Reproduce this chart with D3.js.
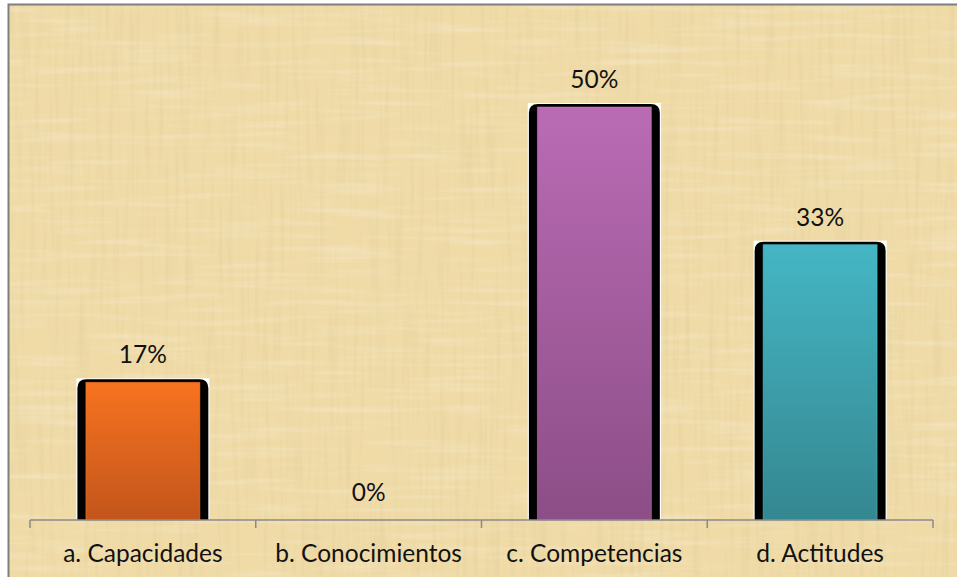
<!DOCTYPE html>
<html>
<head>
<meta charset="utf-8">
<script src="https://cdn.jsdelivr.net/npm/d3@7"></script>
<style>
  html, body { margin: 0; padding: 0; background: #fff; }
  svg { display: block; }
</style>
</head>
<body>
<div id="chart"></div>
<script>
// data
const categories = ["a. Capacidades", "b. Conocimientos", "c. Competencias", "d. Actitudes"]
const values = [1 / 6, 0, 0.5, 1 / 3]
const valueLabels = ["17%", "0%", "50%", "33%"]
const topColors = ["#f7731f", "#ba6bb4", "#ba6bb4", "#45b6c4"]
const bottomColors = ["#c2551b", "#8c4e87", "#8c4e87", "#348790"]

const width = 957, height = 577
const svg = d3.select("#chart").append("svg")
  .attr("width", width)
  .attr("height", height)

const defs = svg.append("defs")

// papyrus-ish texture made with turbulence (vertical + horizontal fibres)
const f = defs.append("filter").attr("id", "papyrus")
  .attr("x", 0).attr("y", 0).attr("width", 1).attr("height", 1)
f.append("feTurbulence").attr("type", "fractalNoise")
  .attr("baseFrequency", "0.2 0.01").attr("numOctaves", 2).attr("seed", 3).attr("result", "v")
f.append("feColorMatrix").attr("in", "v").attr("type", "matrix")
  .attr("values", "0 0 0 0 0.7  0 0 0 0 0.58  0 0 0 0 0.3  0 0 0 0.8 -0.36").attr("result", "vc")
f.append("feTurbulence").attr("type", "fractalNoise")
  .attr("baseFrequency", "0.01 0.15").attr("numOctaves", 2).attr("seed", 7).attr("result", "h")
f.append("feColorMatrix").attr("in", "h").attr("type", "matrix")
  .attr("values", "0 0 0 0 1  0 0 0 0 0.95  0 0 0 0 0.84  0 0 0 0.6 -0.3").attr("result", "hc")
f.append("feTurbulence").attr("type", "fractalNoise")
  .attr("baseFrequency", "0.015 0.015").attr("numOctaves", 2).attr("seed", 11).attr("result", "b")
f.append("feColorMatrix").attr("in", "b").attr("type", "matrix")
  .attr("values", "0 0 0 0 0.85  0 0 0 0 0.72  0 0 0 0 0.4  0 0 0 0.6 -0.28").attr("result", "bc")
const merge = f.append("feMerge")
merge.append("feMergeNode").attr("in", "SourceGraphic")
merge.append("feMergeNode").attr("in", "bc")
merge.append("feMergeNode").attr("in", "vc")
merge.append("feMergeNode").attr("in", "hc")

categories.forEach((c, i) => {
  const g = defs.append("linearGradient").attr("id", "grad" + i)
    .attr("x1", 0).attr("y1", 0).attr("x2", 0).attr("y2", 1)
  g.append("stop").attr("offset", "0%").attr("stop-color", topColors[i])
  g.append("stop").attr("offset", "100%").attr("stop-color", bottomColors[i])
})

// chart area background + border
svg.append("rect")
  .attr("x", 8).attr("y", 4)
  .attr("width", width).attr("height", height)
  .attr("fill", "#f0dba7")
  .attr("filter", "url(#papyrus)")
svg.append("path")
  .attr("d", `M8.5,${height} L8.5,4.5 L${width},4.5`)
  .attr("fill", "none")
  .attr("stroke", "#7f7f7f")
  .attr("stroke-width", 2)

const x = d3.scaleBand().domain(categories).range([30, 933]).padding(0)
const y = d3.scaleLinear().domain([0, 0.5]).range([520, 107])
const bw = x.bandwidth()

const bars = svg.append("g").selectAll("g")
  .data(categories)
  .join("g")
  .filter((d, i) => values[i] > 0)

const cx = d => x(d) + bw / 2
const idx = d => categories.indexOf(d)

// white outline
bars.append("rect")
  .attr("x", d => cx(d) - bw * 0.295)
  .attr("y", d => y(values[idx(d)]) - 4)
  .attr("width", bw * 0.59)
  .attr("height", d => y(0) - y(values[idx(d)]) + 4)
  .attr("fill", "#fff")

// black rounded-top shadow
bars.append("path")
  .attr("d", d => {
    const l = cx(d) - bw * 0.29, r = cx(d) + bw * 0.29
    const t = y(values[idx(d)]) - 3, b = y(0), rr = 9
    return `M${l},${b} L${l},${t + rr} Q${l},${t} ${l + rr},${t} L${r - rr},${t} Q${r},${t} ${r},${t + rr} L${r},${b} Z`
  })
  .attr("fill", "#000")

// coloured bar
bars.append("rect")
  .attr("x", d => cx(d) - bw * 0.2525)
  .attr("y", d => y(values[idx(d)]))
  .attr("width", bw * 0.505)
  .attr("height", d => y(0) - y(values[idx(d)]))
  .attr("fill", d => `url(#grad${idx(d)})`)
  .attr("stroke", d => d3.color(topColors[idx(d)]).brighter(0.3))
  .attr("stroke-opacity", 0.5)
  .attr("stroke-width", 1)

// axis
const axis = svg.append("g").attr("transform", "translate(0,520)")
axis.append("line")
  .attr("x1", 30).attr("x2", 933)
  .attr("stroke", "#8a8a8a").attr("stroke-width", 1.5)
axis.selectAll(".tick")
  .data(categories.map(d => x(d)).concat([x.range()[1]]))
  .join("line")
  .attr("x1", d => d).attr("x2", d => d)
  .attr("y1", 0).attr("y2", 8)
  .attr("stroke", "#8a8a8a").attr("stroke-width", 1.5)

const font = "Lato, 'Open Sans', sans-serif"

svg.append("g").selectAll("text")
  .data(categories)
  .join("text")
  .attr("x", d => cx(d))
  .attr("y", 562)
  .attr("text-anchor", "middle")
  .style("font-family", font)
  .style("font-size", "24.5px")
  .attr("fill", "#111")
  .text(d => d)

svg.append("g").selectAll("text")
  .data(categories)
  .join("text")
  .attr("x", d => cx(d))
  .attr("y", d => y(values[idx(d)]) - 19)
  .attr("text-anchor", "middle")
  .style("font-family", font)
  .style("font-size", "24.5px")
  .attr("fill", "#111")
  .text(d => valueLabels[idx(d)])
</script>
</body>
</html>
